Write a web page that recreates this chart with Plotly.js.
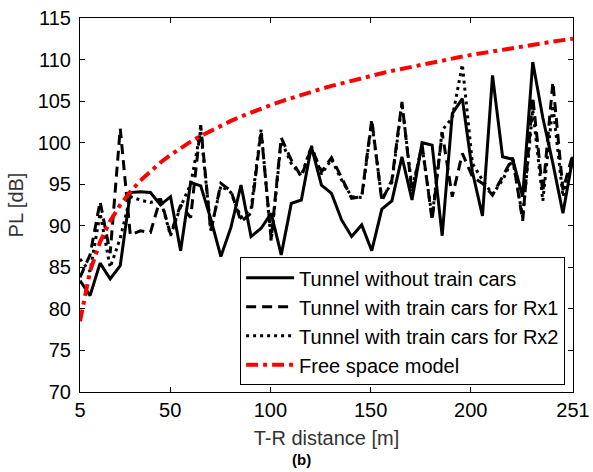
<!DOCTYPE html>
<html>
<head>
<meta charset="utf-8">
<script src="https://cdn.plot.ly/plotly-3.0.1.min.js"></script>
<style>html,body{margin:0;padding:0;background:#fff;}#chart{width:593px;height:472px;}</style>
</head>
<body>
<div id="chart"></div>
<script>
var distance = [5, 10.02, 15.04, 20.06, 25.08, 30.10, 35.12, 40.14, 45.16, 50.18,
  55.20, 60.22, 65.24, 70.27, 75.29, 80.31, 85.33, 90.35, 95.37, 100.39,
  105.41, 110.43, 115.45, 120.47, 125.49, 130.51, 135.53, 140.55, 145.57, 150.59,
  155.61, 160.63, 165.65, 170.67, 175.69, 180.71, 185.73, 190.76, 195.78, 200.80,
  205.82, 210.84, 215.86, 220.88, 225.90, 230.92, 235.94, 240.96, 245.98, 251];

var tunnelNoCars = [83.4, 81.6, 85.5, 83.6, 85.2, 94.0, 94.1, 94.0, 92.5, 93.5,
  87.0, 95.2, 94.8, 90.8, 86.3, 89.8, 94.9, 88.7, 89.7, 91.5,
  86.5, 92.7, 93.1, 99.5, 94.9, 93.9, 90.7, 88.7, 90.1, 87.0,
  92.0, 93.0, 98.3, 93.1, 100.0, 99.7, 88.8, 103.5, 105.3, 96.5,
  91.2, 108.1, 98.3, 98.0, 93.5, 109.7, 103.0, 97.5, 91.5, 98.3];

var tunnelRx1 = [83.8, 86.5, 92.9, 86.7, 101.7, 88.9, 89.4, 89.2, 93.3, 89.0,
  92.5, 91.0, 102.1, 89.3, 95.1, 94.2, 90.5, 91.5, 101.4, 88.4,
  100.6, 97.9, 95.9, 99.4, 96.5, 98.2, 95.8, 93.3, 93.5, 102.8,
  93.0, 95.5, 104.9, 94.0, 99.8, 90.7, 101.2, 93.5, 98.7, 95.9,
  95.1, 93.7, 95.9, 98.2, 90.6, 105.5, 94.0, 107.3, 94.3, 98.7];

var tunnelRx2 = [86.0, 84.5, 91.5, 85.0, 88.5, 93.5, 93.1, 92.8, 93.2, 88.8,
  92.3, 95.0, 101.5, 89.5, 94.8, 94.0, 91.0, 92.0, 101.6, 88.2,
  100.2, 97.5, 96.0, 99.6, 96.2, 98.0, 95.5, 93.5, 93.4, 102.5,
  93.2, 95.2, 104.7, 94.5, 99.5, 91.0, 101.5, 103.0, 109.4, 97.5,
  95.5, 93.8, 95.5, 98.0, 91.0, 104.0, 93.0, 104.5, 93.5, 98.0];

var freeSpace = [78.5, 84.54, 88.07, 90.57, 92.51, 94.09, 95.43, 96.59, 97.62, 98.53,
  99.36, 100.12, 100.81, 101.46, 102.06, 102.62, 103.14, 103.64, 104.11, 104.55,
  104.98, 105.38, 105.77, 106.14, 106.49, 106.83, 107.16, 107.48, 107.78, 108.08,
  108.36, 108.64, 108.90, 109.16, 109.42, 109.66, 109.90, 110.13, 110.36, 110.58,
  110.79, 111.00, 111.20, 111.40, 111.60, 111.79, 111.98, 112.16, 112.34, 112.51];

var seriesNames = ["Tunnel without train cars", "Tunnel with train cars for Rx1",
  "Tunnel with train cars for Rx2", "Free space model"];
var xTicks = [5, 50, 100, 150, 200, 251];
var yTicks = [70, 75, 80, 85, 90, 95, 100, 105, 110, 115];

var FONT = "Liberation Sans, Arial, sans-serif";

var traces = [
  {x: distance, y: tunnelNoCars, name: seriesNames[0], mode: "lines",
   line: {color: "#000", width: 3, dash: "solid"}},
  {x: distance, y: tunnelRx1, name: seriesNames[1], mode: "lines",
   line: {color: "#000", width: 3, dash: "10px,6px"}},
  {x: distance, y: tunnelRx2, name: seriesNames[2], mode: "lines",
   line: {color: "#000", width: 3, dash: "3px,4px"}},
  {x: distance, y: freeSpace, name: seriesNames[3], mode: "lines",
   line: {color: "#ff0000", width: 4, dash: "12px,5px,4px,5px"}}
];

var layout = {
  width: 593, height: 472,
  margin: {l: 80, r: 20, t: 18, b: 80},
  paper_bgcolor: "#fff", plot_bgcolor: "#fff",
  font: {family: FONT, size: 20, color: "#000"},
  showlegend: true,
  legend: {
    x: 0.984, y: 0.018, xanchor: "right", yanchor: "bottom",
    bgcolor: "#fff", bordercolor: "#000", borderwidth: 1,
    font: {family: FONT, size: 20, color: "#000"},
    tracegroupgap: 0, itemwidth: 48
  },
  xaxis: {
    range: [5, 251], tickvals: xTicks, ticktext: xTicks.map(String),
    ticks: "inside", ticklen: 5, tickcolor: "#000",
    showgrid: false, zeroline: false,
    showline: true, linecolor: "#000", linewidth: 1, mirror: "ticks",
    tickfont: {family: FONT, size: 20, color: "#000"},
    title: {text: "T-R distance [m]", font: {family: FONT, size: 20, color: "#333"}, standoff: 10}
  },
  yaxis: {
    range: [70, 115], tickvals: yTicks, ticktext: yTicks.map(String),
    ticks: "inside", ticklen: 5, tickcolor: "#000",
    showgrid: false, zeroline: false,
    showline: true, linecolor: "#000", linewidth: 1, mirror: "ticks",
    ticklabelstandoff: 4,
    tickfont: {family: FONT, size: 20, color: "#000"},
    title: {text: "PL [dB]", font: {family: FONT, size: 20, color: "#333"}, standoff: 8}
  },
  annotations: [
    {text: "<b>(b)</b>", xref: "paper", yref: "paper", x: 0.45, y: -0.18,
     xanchor: "center", yanchor: "middle", showarrow: false,
     font: {family: FONT, size: 15, color: "#000"}}
  ]
};

Plotly.newPlot("chart", traces, layout, {staticPlot: true, displayModeBar: false});
</script>
</body>
</html>
